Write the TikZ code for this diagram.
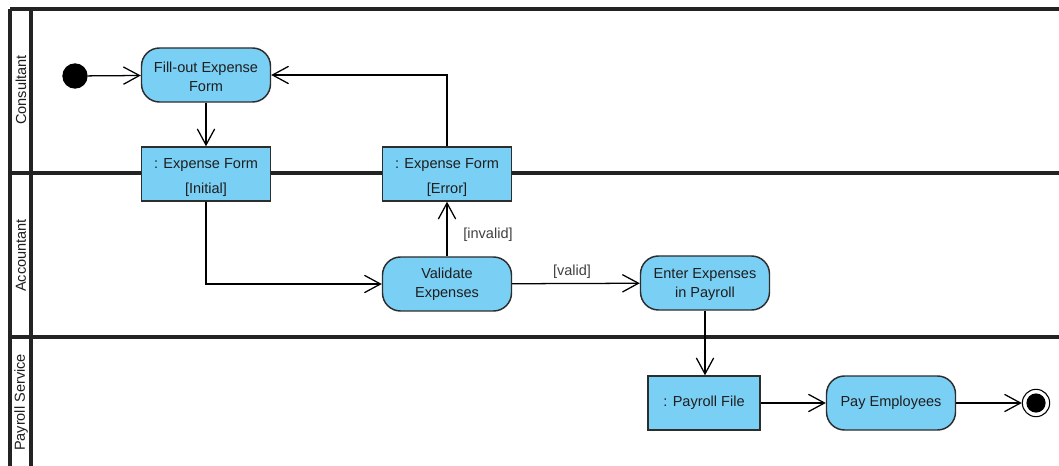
\documentclass[tikz,border=0pt]{standalone}
\usepackage{fontspec}
\setmainfont{Liberation Sans}
\usetikzlibrary{arrows.meta}
\definecolor{fillblue}{RGB}{122,207,245}
\definecolor{edgec}{RGB}{45,45,45}
\definecolor{txtc}{RGB}{30,30,30}
\definecolor{lanec}{RGB}{35,35,35}
\begin{document}
\begin{tikzpicture}[x=0.75pt,y=-0.75pt,
  every node/.style={font=\fontsize{10.9}{14.25}\selectfont, text=txtc},
  action/.style={draw=edgec, fill=fillblue, line width=1.1pt, rounded corners=13.5pt,
    minimum width=96.75pt, minimum height=40.5pt, align=center, inner sep=0pt},
  objbox/.style={draw=edgec, fill=fillblue, line width=1.1pt,
    minimum width=96.75pt, minimum height=40.5pt, align=center, inner sep=0pt},
  arr/.style={draw=black, line width=0.95pt, -{Straight Barb[length=12pt,width=13pt]}},
  laneline/.style={draw=lanec, line width=2.4pt},
  lanelabel/.style={rotate=90, inner sep=0pt},
  guard/.style={inner sep=0pt, text=black!75}
]
\useasboundingbox (0,0) rectangle (1059,466);
\fill[white] (0,0) rectangle (1059,466);

% swimlanes
\draw[laneline] (10,9) -- (1059,9);
\draw[laneline] (10,173) -- (1059,173);
\draw[laneline] (10,337) -- (1059,337);
\draw[laneline] (10,9) -- (10,466);
\draw[laneline] (31,9) -- (31,466);
\node[lanelabel] (lc) at (21,90) {Consultant};
\node[lanelabel] (la) at (21,255.5) {Accountant};
\node[lanelabel] (lp) at (21,402.5) {Payroll Service};

% nodes
\node[circle, fill=black, minimum size=19pt, inner sep=0pt] (init) at (75,76) {};
\node[action] (fill) at (206,75) {\rule{0pt}{10.5pt}Fill-out Expense\\Form};
\node[objbox] (initf) at (206,174) {\rule{0pt}{13.5pt}: Expense Form\\[4.5pt][Initial]};
\node[objbox] (errf) at (447,174) {\rule{0pt}{13.5pt}: Expense Form\\[4.5pt][Error]};
\node[action] (valid) at (447,284) {Validate\\Expenses};
\node[action] (enter) at (705,283) {\rule{0pt}{10pt}Enter Expenses\\in Payroll};
\node[objbox, minimum width=84pt] (payf) at (704,403) {: Payroll File};
\node[action] (pay) at (891,403) {Pay Employees};
\node[circle, draw=black, fill=white, line width=0.8pt, minimum size=20.5pt, inner sep=0pt] (final) at (1036,403) {};
\fill[black] (final.center) circle (7.2pt);

% connectors
\draw[arr] (init) -- (fill);
\draw[arr] (fill) -- (initf);
\draw[arr] (errf.north) |- (fill.east);
\draw[arr] (initf.south) |- (valid.west);
\draw[arr] (valid) -- (errf);
\node[guard] (ginv) at (488,235) {[invalid]};
\draw[arr] (valid) -- (enter);
\node[guard] (gval) at (572,271.5) {[valid]};
\draw[arr] (enter.south) -- (enter.south |- payf.north);
\draw[arr] (payf) -- (pay);
\draw[arr] (pay) -- (final);
\end{tikzpicture}
\end{document}
